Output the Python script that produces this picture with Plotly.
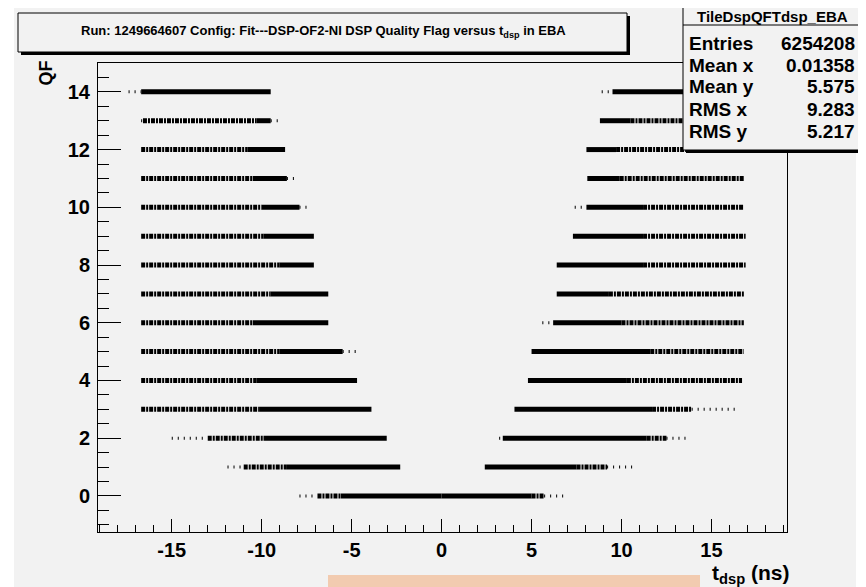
import plotly.graph_objects as go

# ---------------- data ----------------
qf = list(range(15))
# left side of each QF band (ns), outer -> inner
left_tail  = [-7.9, -11.9, -15.0, -16.7, -16.7, -16.7, -16.7, -16.7, -16.7, -16.7, -16.7, -16.7, -16.7, -16.7, -17.4]
left_start = [-6.9, -11.0, -13.0, -16.7, -16.7, -16.7, -16.7, -16.7, -16.7, -16.7, -16.7, -16.7, -16.7, -16.6, -16.7]
left_solid = [-5.6, -8.6, -9.9, -10.1, -10.3, -9.0, -10.5, -9.5, -9.0, -9.9, -10.0, -10.5, -10.8, -10.3, -16.7]
left_end   = [0.0, -2.3, -3.05, -3.9, -4.7, -5.5, -6.3, -6.3, -7.1, -7.1, -7.9, -8.6, -8.7, -9.5, -9.5]
left_dot   = [0.0, -2.3, -3.05, -3.9, -4.7, -4.7, -6.3, -6.3, -7.1, -7.1, -7.3, -8.1, -8.7, -8.9, -9.5]
# right side of each QF band (ns), inner -> outer
right_dot   = [0.0, 2.4, 3.2, 4.05, 4.8, 5.0, 5.6, 6.4, 6.4, 7.3, 7.4, 8.1, 8.05, 8.8, 8.9]
right_start = [0.0, 2.4, 3.4, 4.05, 4.8, 5.0, 6.2, 6.4, 6.4, 7.3, 8.05, 8.1, 8.05, 8.8, 9.5]
right_solid = [5.0, 7.5, 11.4, 11.7, 10.3, 11.6, 10.0, 9.3, 11.2, 11.2, 11.2, 9.9, 9.7, 10.5, 16.7]
right_end   = [5.7, 9.2, 12.5, 13.9, 16.7, 16.8, 16.8, 16.8, 16.9, 16.9, 16.8, 16.8, 16.8, 16.7, 16.7]
right_tail  = [7.0, 10.7, 13.6, 16.4, 16.7, 16.8, 16.8, 16.8, 16.9, 16.9, 16.8, 16.8, 16.8, 16.7, 16.7]

x_ticks = [-15, -10, -5, 0, 5, 10, 15]
y_ticks = [0, 2, 4, 6, 8, 10, 12, 14]

hist_name = "TileDspQFTdsp_EBA"
stat_labels = ["Entries", "Mean x", "Mean y", "RMS x", "RMS y"]
stat_values = ["6254208", "0.01358", "5.575", "9.283", "5.217"]
title_text = "Run: 1249664607 Config: Fit---DSP-OF2-NI DSP Quality Flag versus t<sub>dsp</sub> in EBA"
x_title = "t<sub>dsp</sub> (ns)"
y_title = "QF"

# ---------------- build segments ----------------
def segs(pairs):
    xs, ys = [], []
    for y, a, b in pairs:
        if a == b:
            continue
        xs += [a, b, None]
        ys += [y, y, None]
    return xs, ys

tails, speck, solid = [], [], []
for i, y in enumerate(qf):
    tails.append((y, left_tail[i], left_start[i]))
    tails.append((y, left_end[i], left_dot[i]))
    tails.append((y, right_dot[i], right_start[i]))
    tails.append((y, right_end[i], right_tail[i]))
    speck.append((y, left_start[i], left_solid[i]))
    speck.append((y, right_solid[i], right_end[i]))
    solid.append((y, left_solid[i], left_end[i]))
    solid.append((y, right_start[i], right_solid[i]))

fig = go.Figure()
tx, ty = segs(tails)
fig.add_trace(go.Scatter(x=tx, y=ty, mode="lines", line=dict(color="black", width=3, dash="1px,5px"),
                         showlegend=False, hoverinfo="skip"))
sx, sy = segs(speck)
fig.add_trace(go.Scatter(x=sx, y=sy, mode="lines", line=dict(color="black", width=5, dash="4px,1px,2px,1px"),
                         showlegend=False, hoverinfo="skip"))
dx, dy = segs(solid)
fig.add_trace(go.Scatter(x=dx, y=dy, mode="lines", line=dict(color="black", width=5),
                         showlegend=False, hoverinfo="skip"))

# ---------------- layout ----------------
# the page body adds an 8px offset; positions below are screen pixels
OFF = 8
W, H = 866, 587
PL, PR, PT, PB = 98, 787, 63, 532          # plot area on screen
L, T = PL - OFF, PT - OFF
R, B = W - (PR - OFF), H - (PB - OFF)
PW, PH = PR - PL, PB - PT
def px(p):
    return (p - PL) / PW
def py(p):
    return (PB - p) / PH

FONT = "Liberation Sans, Arial, sans-serif"
GREY = "#f2f2f2"

shapes = [
    dict(type="rect", xref="paper", yref="paper", x0=px(14), x1=px(856), y0=py(0), y1=py(H + OFF),
         fillcolor=GREY, line=dict(width=0), layer="below"),
    dict(type="rect", xref="paper", yref="paper", x0=px(328), x1=px(700), y0=py(575), y1=py(H + OFF),
         fillcolor="#f2cbb0", line=dict(width=0), layer="above"),
    dict(type="rect", xref="paper", yref="paper", x0=px(21), x1=px(630), y0=py(55), y1=py(16),
         fillcolor="black", line=dict(width=0)),
    dict(type="rect", xref="paper", yref="paper", x0=px(18), x1=px(627), y0=py(52), y1=py(13),
         fillcolor=GREY, line=dict(color="black", width=1)),
    dict(type="rect", xref="paper", yref="paper", x0=px(686), x1=px(863), y0=py(153), y1=py(6),
         fillcolor="black", line=dict(width=0)),
    dict(type="rect", xref="paper", yref="paper", x0=px(683), x1=px(860), y0=py(150), y1=py(3),
         fillcolor=GREY, line=dict(color="black", width=1)),
    dict(type="line", xref="paper", yref="paper", x0=px(683), x1=px(860), y0=py(25), y1=py(25),
         line=dict(color="black", width=1)),
]

annotations = [
    dict(text="<b>" + title_text + "</b>", xref="paper", yref="paper", x=px(323), y=py(31),
         xanchor="center", yanchor="middle", showarrow=False, font=dict(family=FONT, size=13, color="black")),
    dict(text="<b>" + hist_name + "</b>", xref="paper", yref="paper", x=px(772), y=py(16),
         xanchor="center", yanchor="middle", showarrow=False, font=dict(family=FONT, size=15, color="black")),
    dict(text="<b>" + x_title + "</b>", xref="paper", yref="paper", x=px(791), y=py(574), xanchor="right",
         yanchor="middle", showarrow=False, font=dict(family=FONT, size=21, color="black")),
    dict(text="<b>" + y_title + "</b>", xref="paper", yref="paper", x=px(45), y=py(59), xanchor="center",
         yanchor="top", textangle=-90, showarrow=False, font=dict(family=FONT, size=18, color="black")),
]
row_y = [43, 65, 87, 109, 131]
for lab, val, yy in zip(stat_labels, stat_values, row_y):
    annotations.append(dict(text="<b>" + lab + "</b>", xref="paper", yref="paper", x=px(687), y=py(yy),
                            xanchor="left", yanchor="middle", showarrow=False,
                            font=dict(family=FONT, size=19, color="black")))
    annotations.append(dict(text="<b>" + val + "</b>", xref="paper", yref="paper", x=px(857), y=py(yy),
                            xanchor="right", yanchor="middle", showarrow=False,
                            font=dict(family=FONT, size=19, color="black")))

fig.update_layout(
    width=W, height=H,
    margin=dict(l=L, r=R, t=T, b=B, pad=0),
    paper_bgcolor="white",
    plot_bgcolor=GREY,
    showlegend=False,
    shapes=shapes,
    annotations=annotations,
    xaxis=dict(range=[-19.1, 19.2], tickvals=x_ticks, ticktext=[str(v) for v in x_ticks],
               ticks="inside", ticklen=13, tickwidth=1, tickcolor="black",
               minor=dict(dtick=1, tick0=0, ticks="inside", ticklen=7, tickcolor="black"),
               showgrid=False, zeroline=False, showline=True, linecolor="black", linewidth=1, mirror=True,
               tickfont=dict(family=FONT, size=20, color="black", weight="bold"), ticklabelstandoff=0),
    yaxis=dict(range=[-1.25, 15.0], tickvals=y_ticks, ticktext=[str(v) for v in y_ticks],
               ticks="inside", ticklen=23, tickwidth=1, tickcolor="black",
               minor=dict(dtick=0.5, tick0=0, ticks="inside", ticklen=11, tickcolor="black"),
               showgrid=False, zeroline=False, showline=True, linecolor="black", linewidth=1, mirror=True,
               tickfont=dict(family=FONT, size=20, color="black", weight="bold"), ticklabelstandoff=3),
)

fig.write_html("out.html")
